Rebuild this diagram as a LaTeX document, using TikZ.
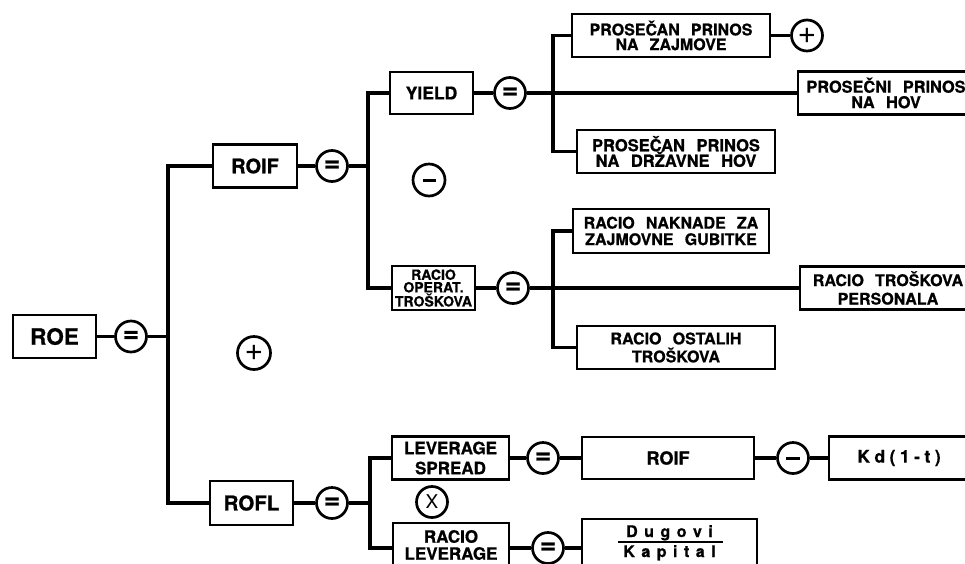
\documentclass[tikz,border=0pt]{standalone}
\usepackage{fontspec}
\setmainfont{TeX Gyre Heros}[BoldFeatures={FakeBold=0.8}]
\newcommand\wsp{\hspace{0.7em}}
\newcommand\lsp[1]{\hspace{#1}}
\begin{document}
\begin{tikzpicture}[x=1pt,y=-1pt,
  fs/.style 2 args={font=\fontsize{#1}{#2}\selectfont\bfseries},
  box/.style={draw, line width=2.9pt, inner sep=0pt, align=center},
  op/.style={draw, circle, line width=2.7pt, minimum size=31pt, inner sep=0pt},
  eqc/.style={op, font=\fontsize{28}{28}\selectfont\bfseries},
  pl/.style={op, font=\fontsize{32}{32}\selectfont},
  xx/.style={op, font=\fontsize{19}{19}\selectfont},
  conn/.style={line width=3.2pt, line join=miter}]
\useasboundingbox (0,0) rectangle (965,563);
\clip (0,0) rectangle (965,563);
\fill[white] (0,0) rectangle (965,563);

\coordinate (v0) at (168,0);
\coordinate (v1) at (368,0);
\coordinate (v2) at (553,0);
\coordinate (v4) at (370,0);

% nodes
\node[box, fs={22.5}{24}, minimum width=83pt, minimum height=43pt] (roe) at (54.5,336.5) {ROE};
\node[eqc] (eq0) at (131,336.5) {=};
\node[pl, minimum size=33pt] (plus0) at (254,353) {+};

\node[box, fs={20}{22}, minimum width=84pt, minimum height=43pt] (roif) at (255,166) {ROIF};
\node[eqc] (eq1) at (332,166) {=};
\node[box, fs={17.5}{20}, minimum width=83pt, minimum height=42pt] (yield) at (431.5,93) {YIELD};
\node[eqc] (eq2) at (510,93) {=};
\node[op, minimum size=32pt] (minus1) at (429,180) {\rule{13pt}{3pt}};
\node[box, fs={16}{14.8}, minimum width=198pt, minimum height=43pt] (p1) at (671,35.5) {PROSEČAN\wsp PRINOS\\NA\wsp ZAJMOVE};
\node[pl] (plus1) at (807,35.5) {+};
\node[box, fs={16.3}{15.5}, minimum width=176pt, minimum height=43pt] (p2) at (886,93) {PROSEČNI\wsp PRINOS\\NA\wsp HOV};
\node[box, fs={16.5}{15.5}, minimum width=198pt, minimum height=43pt] (p3) at (676,151.5) {PROSEČAN\wsp PRINOS\\NA\wsp DRŽAVNE\wsp HOV};

\node[box, fs={14}{12.6}, minimum width=83pt, minimum height=44pt] (rot) at (433.5,288) {RACIO\\OPERAT.\\TROŠKOVA};
\node[eqc] (eq3) at (513,288) {=};
\node[box, fs={16}{16.5}, minimum width=196pt, minimum height=44pt] (r1) at (671,231) {RACIO\wsp NAKNADE\wsp ZA\\ZAJMOVNE\wsp GUBITKE};
\node[box, fs={16}{18.5}, minimum width=176pt, minimum height=43pt] (r2) at (888,288) {RACIO\wsp TROŠKOVA\\PERSONALA};
\node[box, fs={16}{18}, minimum width=198pt, minimum height=43pt] (r3) at (676,347.5) {RACIO\wsp OSTALIH\\TROŠKOVA};

\node[box, fs={20.5}{22}, minimum width=83pt, minimum height=44pt] (rofl) at (251.5,503) {ROFL};
\node[eqc] (eq4) at (332,503) {=};
\node[box, fs={17}{20}, minimum width=117pt, minimum height=43pt] (ls) at (450.5,458) {LEVERAGE\\SPREAD};
\node[eqc] (eq5) at (543,458) {=};
\node[box, fs={18}{20}, minimum width=172pt, minimum height=42pt] (roif2) at (668,458) {ROIF};
\node[op] (minus2) at (793,458) {\rule{14pt}{3pt}};
\node[box, fs={17.5}{20}, minimum width=140pt, minimum height=43pt] (kd) at (899,458) {K\lsp{4.5pt}d\lsp{4.5pt}(\lsp{4.5pt}1\lsp{4.5pt}-\lsp{4.5pt}t\lsp{4.5pt})};
\node[xx] (xc) at (432,502) {X};
\node[box, fs={17}{17}, minimum width=116pt, minimum height=44pt] (rl) at (451,545) {RACIO\\LEVERAGE};
\node[eqc] (eq6) at (548,548) {=};
\node[box, minimum width=175pt, minimum height=50pt] (frac) at (669.5,544) {};
\node[fs={16}{16}, anchor=base, inner sep=0pt] (dug) at (669.5,537) {D\lsp{6.5pt}u\lsp{6.5pt}g\lsp{6.5pt}o\lsp{6.5pt}v\lsp{6.5pt}i};
\node[fs={16}{16}, anchor=base, inner sep=0pt] (kap) at (669.5,557) {K\lsp{6.5pt}a\lsp{6.5pt}p\lsp{6.5pt}i\lsp{6.5pt}t\lsp{6.5pt}a\lsp{6.5pt}l};
\coordinate (fl) at (618,542);
\coordinate (fr) at (723,542);
\draw[line width=2.6pt] (fl) -- (fr);

% connectors
\draw[conn] (roe) -- (eq0);
\draw[conn] (eq0) -- (eq0 -| v0);
\draw[conn] (roif.west) -- (roif.west -| v0) -- (rofl.west -| v0) -- (rofl.west);

\draw[conn] (roif) -- (eq1);
\draw[conn] (eq1) -- (eq1 -| v1);
\draw[conn] (yield.west) -- (yield.west -| v1) -- (rot.west -| v1) -- (rot.west);
\draw[conn] (yield) -- (eq2);
\draw[conn] (eq2) -- (p2.west);
\draw[conn] (p1.west) -- (p1.west -| v2) -- (p3.west -| v2) -- (p3.west);
\draw[conn] (p1) -- (plus1);

\draw[conn] (rot) -- (eq3);
\draw[conn] (eq3) -- (r2.west);
\draw[conn] (r1.west) -- (r1.west -| v2) -- (r3.west -| v2) -- (r3.west);

\draw[conn] (rofl) -- (eq4);
\draw[conn] (eq4) -- (eq4 -| v4);
\draw[conn] (ls.west) -- (ls.west -| v4) -- (v4 |- eq6) -- (rl.west |- eq6);
\draw[conn] (ls) -- (eq5);
\draw[conn] (eq5) -- (roif2);
\draw[conn] (roif2) -- (minus2);
\draw[conn] (minus2) -- (kd);
\draw[conn] (rl.east |- eq6) -- (eq6);
\draw[conn] (eq6) -- (frac.west |- eq6);
\end{tikzpicture}
\end{document}
